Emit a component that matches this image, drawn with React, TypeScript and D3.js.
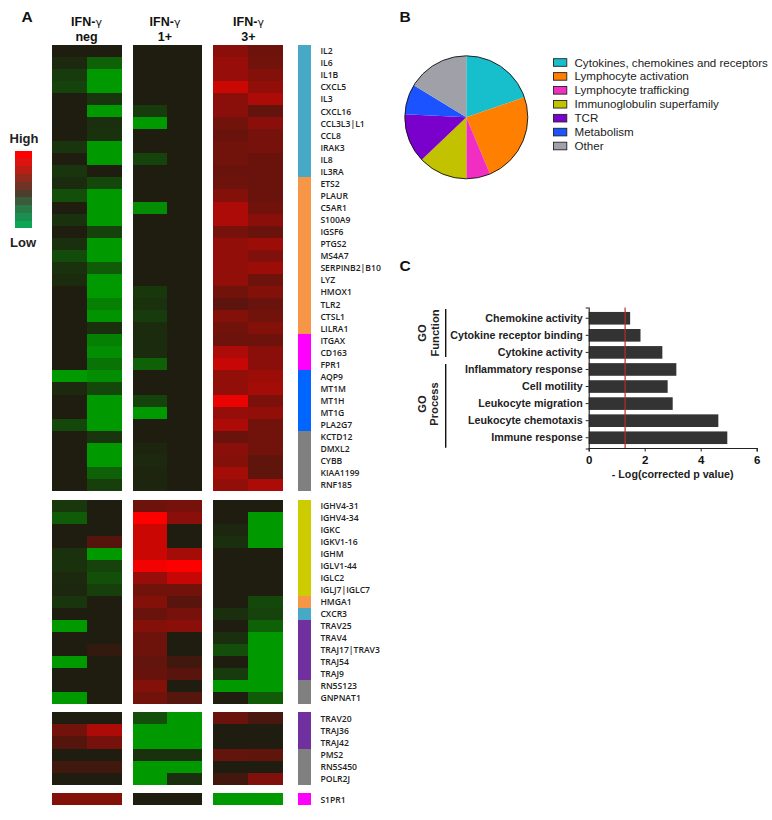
import React, { useRef, useEffect } from 'react';
import * as d3 from 'd3';

// heatmap values: -1 full green, 0 black, 1 full red
// columns: neg a, neg b, 1+ a, 1+ b, 3+ a, 3+ b
const genes1 = ['IL2', 'IL6', 'IL1B', 'CXCL5', 'IL3', 'CXCL16', 'CCL3L3|L1', 'CCL8', 'IRAK3', 'IL8', 'IL3RA', 'ETS2', 'PLAUR', 'C5AR1', 'S100A9', 'IGSF6', 'PTGS2', 'MS4A7', 'SERPINB2|B10', 'LYZ', 'HMOX1', 'TLR2', 'CTSL1', 'LILRA1', 'ITGAX', 'CD163', 'FPR1', 'AQP9', 'MT1M', 'MT1H', 'MT1G', 'PLA2G7', 'KCTD12', 'DMXL2', 'CYBB', 'KIAA1199', 'RNF185'];
const values1 = [
  [0, 0, 0, 0, 0.55, 0.4],
  [-0.1, -0.55, 0, 0, 0.6, 0.42],
  [-0.25, -1, 0, 0, 0.6, 0.52],
  [-0.3, -1, 0, 0, 0.8, 0.58],
  [0, -0.2, 0, 0, 0.55, 0.68],
  [0, -1, -0.25, 0, 0.55, 0.35],
  [0, -0.15, -1, 0, 0.42, 0.55],
  [0, -0.18, 0, 0, 0.38, 0.45],
  [-0.2, -1, 0, 0, 0.42, 0.45],
  [0, -1, -0.3, 0, 0.42, 0.38],
  [-0.2, 0, 0, 0, 0.38, 0.38],
  [-0.12, -0.35, 0, 0, 0.4, 0.38],
  [-0.4, -1, 0, 0, 0.52, 0.38],
  [0, -1, -0.9, 0, 0.68, 0.42],
  [-0.18, -1, 0, 0, 0.68, 0.55],
  [0, -0.3, 0, 0, 0.45, 0.38],
  [-0.15, -1, 0, 0, 0.58, 0.62],
  [-0.38, -1, 0, 0, 0.58, 0.5],
  [-0.18, -0.5, 0, 0, 0.58, 0.62],
  [-0.12, -1, 0, 0, 0.58, 0.4],
  [0, -1, -0.22, 0, 0.42, 0.52],
  [0, -0.8, -0.18, 0, 0.32, 0.38],
  [0, -0.95, -0.25, 0, 0.52, 0.42],
  [0, -0.15, -0.12, 0, 0.42, 0.52],
  [0, -0.8, -0.12, 0, 0.4, 0.4],
  [0, -0.9, -0.12, 0, 0.68, 0.55],
  [0, -0.7, -0.55, 0, 0.78, 0.55],
  [-1, -0.9, 0, 0, 0.58, 0.62],
  [-0.1, -0.35, 0, 0, 0.58, 0.65],
  [0, -1, -0.3, 0, 0.92, 0.48],
  [0, -1, -1, 0, 0.6, 0.58],
  [-0.35, -1, 0, 0, 0.68, 0.42],
  [0, -0.2, 0, 0, 0.38, 0.42],
  [0, -1, -0.07, 0, 0.55, 0.42],
  [0, -1, -0.1, 0, 0.52, 0.33],
  [0, -0.55, -0.07, 0, 0.65, 0.33],
  [0, -0.28, -0.07, 0, 0.58, 0.68],
];
const genes2 = ['IGHV4-31', 'IGHV4-34', 'IGKC', 'IGKV1-16', 'IGHM', 'IGLV1-44', 'IGLC2', 'IGLJ7|IGLC7', 'HMGA1', 'CXCR3', 'TRAV25', 'TRAV4', 'TRAJ17|TRAV3', 'TRAJ54', 'TRAJ9', 'RN5S123', 'GNPNAT1'];
const values2 = [
  [-0.22, 0, 0.4, 0.45, 0, 0],
  [-0.5, 0, 1, 0.55, 0, -1],
  [0, 0, 0.8, 0, -0.08, -1],
  [0, 0.28, 0.8, 0, -0.15, -1],
  [-0.18, -1, 0.8, 0.65, 0, 0],
  [-0.18, -0.3, 0.95, 1, 0, 0],
  [-0.1, -0.42, 0.6, 0.78, 0, 0],
  [-0.08, -0.28, 0.42, 0.42, 0, 0],
  [-0.2, 0, 0.52, 0.3, 0, -0.35],
  [0, 0, 0.38, 0.45, -0.15, -0.3],
  [-1, 0, 0.52, 0.55, 0, -0.55],
  [0, 0, 0.4, 0, -0.15, -1],
  [0, 0.1, 0.4, 0, -0.4, -1],
  [-1, 0, 0.35, 0.17, 0, -1],
  [0, 0, 0.37, 0.3, -0.25, -1],
  [0, 0, 0.52, 0, -1, -1],
  [-1, 0, 0.42, 0.27, 0, -0.5],
];
const genes3 = ['TRAV20', 'TRAJ36', 'TRAJ42', 'PMS2', 'RN5S450', 'POLR2J'];
const values3 = [
  [0, 0, -0.4, -1, 0.38, 0.22],
  [0.42, 0.68, -1, -1, 0, 0],
  [0.28, 0.45, -1, -1, 0, 0],
  [0, 0, -0.18, -0.18, 0.35, 0.33],
  [0.17, 0.17, -1, -1, 0, 0],
  [0, 0, -1, -0.15, 0.18, 0.5],
];
const genes4 = ['S1PR1'];
const values4 = [[0.52, 0.52, 0, 0, -1, -1]];

// annotation strip, as [colour key, number of genes]
const strip1: [string, number][] = [['cyto', 11], ['act', 13], ['traf', 3], ['meta', 5], ['other', 5]];
const strip2: [string, number][] = [['ig', 8], ['act', 1], ['cyto', 1], ['tcr', 5], ['other', 2]];
const strip3: [string, number][] = [['tcr', 3], ['other', 3]];
const strip4: [string, number][] = [['traf', 1]];
const stripColors = { cyto: '#47a9c6', act: '#f79646', traf: '#ff00ff', meta: '#0066ff', other: '#808080', ig: '#cccc00', tcr: '#7030a0' };

const legendSteps = ['#ff0000', '#dc1410', '#bb1c14', '#8f2a1c', '#6e3324', '#4a3e2c', '#3a5c3a', '#2a7a48', '#1a8f50', '#0da655'];

const pieLabels = ['Cytokines, chemokines and receptors', 'Lymphocyte activation', 'Lymphocyte trafficking', 'Immunoglobulin superfamily', 'TCR', 'Metabolism', 'Other'];
const pieValues = [19.7, 24, 6.3, 12.9, 12.9, 7.9, 16.3];
const pieColors = ['#17becb', '#ff8000', '#f02fc2', '#c2c200', '#7a00cc', '#1a53ff', '#a0a0a8'];

const goTerms = ['Chemokine activity', 'Cytokine receptor binding', 'Cytokine activity', 'Inflammatory response', 'Cell motility', 'Leukocyte migration', 'Leukocyte chemotaxis', 'Immune response'];
const goValues = [1.48, 1.85, 2.63, 3.13, 2.82, 3.0, 4.63, 4.95];
const cutoff = 1.3;

const ARIAL = '"Liberation Sans", Arial, sans-serif';

export default function App() {
  const ref = useRef<SVGSVGElement>(null);
  useEffect(() => {
    const svg = d3.select(ref.current);
    svg.selectAll('*').remove();

    const color = d3.scaleLinear<string>().domain([-1, 0, 0.55, 1]).range(['#009900', '#1f1c10', '#8a0f0a', '#ff0000']);
    const groups = [[52, 121.7], [133, 201.5], [212.7, 283]];

    const heatmap = (genes: string[], values: number[][], strip: [string, number][], top: number, bottom: number) => {
      const y = d3.scaleBand<number>().domain(d3.range(genes.length)).range([top, bottom]);
      const g = svg.append('g');
      groups.forEach((ext, gi) => {
        const x = d3.scaleBand<number>().domain([0, 1]).range(ext as [number, number]);
        values.forEach((row, ri) => {
          [0, 1].forEach((c) => {
            g.append('rect')
              .attr('x', x(c)!)
              .attr('y', y(ri)!)
              .attr('width', x.bandwidth())
              .attr('height', y.bandwidth())
              .attr('shape-rendering', 'crispEdges')
              .attr('fill', color(row[gi * 2 + c]));
          });
        });
      });
      let pos = 0;
      strip.forEach(([key, n]) => {
        g.append('rect')
          .attr('x', 298.3)
          .attr('y', y(pos)!)
          .attr('width', 13)
          .attr('height', y.step() * n)
          .attr('shape-rendering', 'crispEdges')
          .attr('fill', stripColors[key]);
        pos += n;
      });
      genes.forEach((name, i) => {
        g.append('text')
          .attr('x', 320.4)
          .attr('y', y(i)! + y.bandwidth() / 2 + 3.5)
          .attr('font-family', '"Open Sans", sans-serif')
          .attr('font-size', 8.6)
          .attr('font-weight', 600)
          .attr('fill', '#222')
          .text(name);
      });
    };
    heatmap(genes1, values1, strip1, 44.7, 491);
    heatmap(genes2, values2, strip2, 499.5, 704);
    heatmap(genes3, values3, strip3, 712.3, 784.7);
    heatmap(genes4, values4, strip4, 793.3, 805);

    // column headers
    const headers = [['neg', 86.5], ['1+', 165], ['3+', 248.5]] as [string, number][];
    headers.forEach(([sub, cx]) => {
      const t = svg.append('text').attr('x', cx).attr('y', 26).attr('text-anchor', 'middle')
        .attr('font-family', ARIAL).attr('font-size', 12.5).attr('font-weight', 700).attr('fill', '#111');
      t.append('tspan').text('IFN-');
      t.append('tspan').attr('font-weight', 400).attr('font-family', '"DejaVu Sans"').attr('font-size', 11).text('γ');
      svg.append('text').attr('x', cx).attr('y', 41).attr('text-anchor', 'middle')
        .attr('font-family', ARIAL).attr('font-size', 12.5).attr('font-weight', 700).attr('fill', '#111').text(sub);
    });

    const letter = (s: string, x: number, y: number) =>
      svg.append('text').attr('x', x).attr('y', y).attr('font-family', ARIAL).attr('font-size', 15.5)
        .attr('font-weight', 700).attr('fill', '#111').text(s);
    letter('A', 21.5, 22);
    letter('B', 399.5, 22);
    letter('C', 399.5, 271);

    // heat legend
    const ly = d3.scaleBand<number>().domain(d3.range(legendSteps.length)).range([150.7, 228.3]);
    legendSteps.forEach((c, i) => {
      svg.append('rect').attr('x', 15).attr('y', ly(i)!).attr('width', 17.3).attr('height', ly.bandwidth())
        .attr('shape-rendering', 'crispEdges').attr('fill', c);
    });
    svg.append('text').attr('x', 24).attr('y', 143).attr('text-anchor', 'middle').attr('font-family', ARIAL)
      .attr('font-size', 13).attr('font-weight', 700).attr('fill', '#222').text('High');
    svg.append('text').attr('x', 23).attr('y', 247).attr('text-anchor', 'middle').attr('font-family', ARIAL)
      .attr('font-size', 13).attr('font-weight', 700).attr('fill', '#222').text('Low');

    // pie
    const pie = d3.pie<number>().sort(null);
    const arc = d3.arc<d3.PieArcDatum<number>>().innerRadius(0).outerRadius(61.5);
    const pg = svg.append('g').attr('transform', 'translate(466.3,117.3)');
    pie(pieValues).forEach((d, i) => {
      pg.append('path').attr('d', arc(d)).attr('fill', pieColors[i]);
    });
    pg.append('circle').attr('r', 61.5).attr('fill', 'none').attr('stroke', '#111').attr('stroke-width', 0.9);

    const legendY = d3.scaleLinear().domain([0, 6]).range([62.5, 146]);
    pieLabels.forEach((label, i) => {
      svg.append('rect').attr('x', 553.5).attr('y', legendY(i) - 3.8).attr('width', 13.3).attr('height', 7.6)
        .attr('fill', pieColors[i]).attr('stroke', '#222').attr('stroke-width', 0.9);
      svg.append('text').attr('x', 574.5).attr('y', legendY(i) + 4).attr('font-family', ARIAL)
        .attr('font-size', 11.6).attr('fill', '#222').text(label);
    });

    // GO bars
    const x = d3.scaleLinear().domain([0, 6]).range([588.7, 756.7]);
    const y = d3.scaleBand<string>().domain(goTerms).range([307.5, 448.5]).padding(0.26);
    const bg = svg.append('g');
    goTerms.forEach((term, i) => {
      bg.append('rect').attr('x', x(0)).attr('y', y(term)!).attr('width', x(goValues[i]) - x(0))
        .attr('height', y.bandwidth()).attr('fill', '#333333');
    });
    bg.append('line').attr('x1', x(cutoff)).attr('x2', x(cutoff)).attr('y1', 307.5).attr('y2', 448)
      .attr('stroke', '#c02a2a').attr('stroke-width', 1.2);

    const xAxis = d3.axisBottom(x).tickValues([0, 2, 4, 6]).tickSize(3.5).tickPadding(4.5).tickFormat(d3.format('d') as any);
    const xg = svg.append('g').attr('transform', 'translate(0,448)').call(xAxis);
    xg.select('.domain').attr('stroke-width', 1.1).attr('stroke', '#222');
    xg.selectAll('.tick line').attr('stroke', '#222');
    xg.selectAll('text').attr('font-family', ARIAL).attr('font-size', 11.5).attr('font-weight', 700).attr('fill', '#111');

    const yAxis = d3.axisLeft(y).tickSize(3);
    const yg = svg.append('g').attr('transform', 'translate(588.7,0)').call(yAxis);
    yg.select('.domain').attr('stroke-width', 1.1).attr('stroke', '#222');
    yg.selectAll('.tick line').attr('stroke', '#222');
    yg.selectAll('text').attr('font-family', ARIAL).attr('font-size', 10.7).attr('font-weight', 700).attr('fill', '#222');

    svg.append('text').attr('x', 672.7).attr('y', 478).attr('text-anchor', 'middle').attr('font-family', ARIAL)
      .attr('font-size', 10.7).attr('font-weight', 700).attr('fill', '#222').text('- Log(corrected p value)');

    // GO brackets
    const bracket = (y1: number, y2: number) =>
      svg.append('line').attr('x1', 445.7).attr('x2', 445.7).attr('y1', y1).attr('y2', y2).attr('stroke', '#111').attr('stroke-width', 1.4);
    bracket(309, 357);
    bracket(364, 447.7);
    const vertical = (s: string, px: number, py: number) =>
      svg.append('text').attr('transform', `translate(${px},${py}) rotate(-90)`).attr('text-anchor', 'middle')
        .attr('font-family', ARIAL).attr('font-size', 11.2).attr('font-weight', 700).attr('fill', '#222').text(s);
    vertical('GO', 426, 333);
    vertical('Function', 439, 333);
    vertical('GO', 426, 404);
    vertical('Process', 438, 404);
  }, []);
  return <svg ref={ref} width={772} height={820} style={{ position: 'absolute', left: 0, top: 0 }} />;
}
